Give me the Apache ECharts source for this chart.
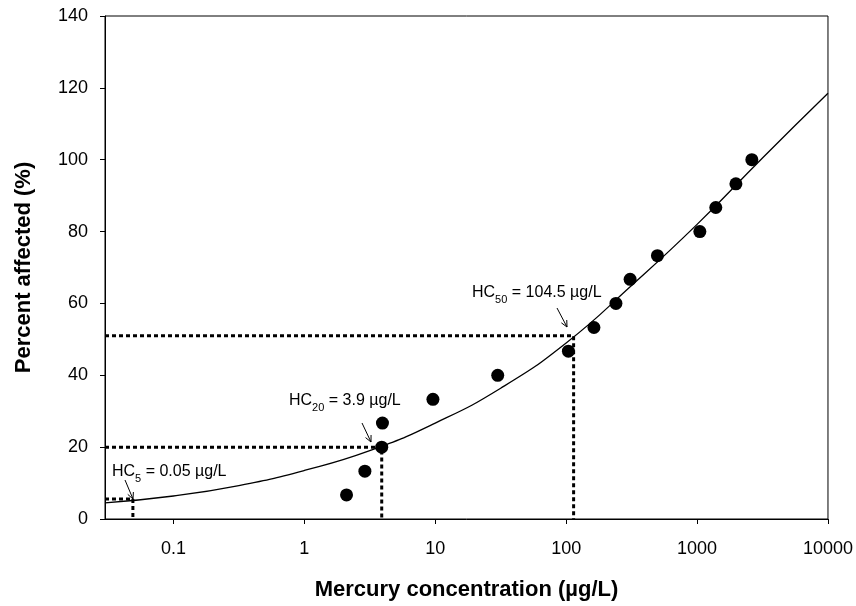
<!DOCTYPE html>
<html>
<head>
<meta charset="utf-8">
<script src="https://cdn.jsdelivr.net/npm/echarts@6/dist/echarts.min.js"></script>
<style>
  html, body { margin: 0; padding: 0; background: #fff; }
  #main { width: 856px; height: 606px; }
</style>
</head>
<body>
<div id="main"></div>
<script>
// observed points (concentration, % affected)
const obsX = [2.1, 2.9, 3.9, 3.95, 9.6, 30, 104, 163, 240, 308, 498, 1050, 1390, 1980, 2620];
const obsY = [6.7, 13.3, 20, 26.7, 33.3, 40, 46.7, 53.3, 60, 66.7, 73.3, 80, 86.7, 93.3, 100];

// fitted curve
const curveX = [0.03, 0.1, 0.316, 1, 3.16, 10, 31.6, 100, 316, 1000, 3160, 10000];
const curveY = [4.5, 6.4, 9.3, 13.5, 19, 26.7, 36.4, 49, 65, 82, 100.5, 118.5];

// HC5 / HC20 / HC50 guide lines
const hcX = [0.049, 3.9, 114];
const hcY = [5.6, 20, 51];

const xMin = 0.03, xMax = 10000;
const yTicks = [0, 20, 40, 60, 80, 100, 120, 140];

const font = '"Liberation Sans", Arial, sans-serif';

const chart = echarts.init(document.getElementById('main'));

const guideSeries = hcX.map((x, i) => ({
  type: 'line',
  data: [[xMin, hcY[i]], [x, hcY[i]], [x, 0]],
  showSymbol: false,
  silent: true,
  lineStyle: { color: '#000', width: 3, type: [4, 3] },
  z: 2
}));

function arrow(x1, y1, x2, y2) {
  const a = Math.atan2(y2 - y1, x2 - x1);
  const len = 7, sp = 0.45;
  return [
    { type: 'line', shape: { x1: x1, y1: y1, x2: x2, y2: y2 }, style: { stroke: '#000', lineWidth: 1 } },
    { type: 'polyline', shape: { points: [
        [x2 - len * Math.cos(a - sp), y2 - len * Math.sin(a - sp)],
        [x2, y2],
        [x2 - len * Math.cos(a + sp), y2 - len * Math.sin(a + sp)]
      ] }, style: { stroke: '#000', lineWidth: 1, fill: null } }
  ];
}

const rich = {
  a: { fontSize: 16, fontFamily: font, lineHeight: 18, verticalAlign: 'top', color: '#000' },
  s: { fontSize: 11, fontFamily: font, lineHeight: 14, verticalAlign: 'top', padding: [9, 0, 0, 0], color: '#000' }
};

function hcText(x, y, sub, rest) {
  return { type: 'text', x: x, y: y, style: { text: '{a|HC}{s|' + sub + '}{a| = ' + rest + '}', rich: rich } };
}

chart.setOption({
  animation: false,
  backgroundColor: '#fff',
  grid: { left: 105, right: 28, top: 16, bottom: 86, show: true, borderColor: '#000', borderWidth: 1 },
  xAxis: {
    type: 'log',
    logBase: 10,
    min: xMin,
    max: xMax,
    name: 'Mercury concentration (µg/L)',
    nameLocation: 'middle',
    nameGap: 60,
    nameTextStyle: { fontFamily: font, fontWeight: 'bold', fontSize: 22, color: '#000' },
    axisLine: { lineStyle: { color: '#000', width: 1 } },
    axisTick: { length: 5, lineStyle: { color: '#000' } },
    axisLabel: {
      fontFamily: font, fontSize: 18, color: '#000', margin: 21,
      showMinLabel: false,
      formatter: function (v) {
        const l = Math.log10(v);
        return Math.abs(l - Math.round(l)) < 1e-6 ? String(Number(v.toPrecision(6))) : '';
      }
    },
    splitLine: { show: false },
    minorTick: { show: false }
  },
  yAxis: {
    type: 'value',
    min: yTicks[0],
    max: yTicks[yTicks.length - 1],
    interval: 20,
    name: 'Percent affected (%)',
    nameLocation: 'middle',
    nameGap: 70,
    nameTextStyle: { fontFamily: font, fontWeight: 'bold', fontSize: 22, color: '#000' },
    axisLine: { show: true, lineStyle: { color: '#000', width: 1 } },
    axisTick: { show: true, length: 5, lineStyle: { color: '#000' } },
    axisLabel: { fontFamily: font, fontSize: 18, color: '#000', margin: 17 },
    splitLine: { show: false }
  },
  series: guideSeries.concat([
    {
      type: 'line',
      data: curveX.map((x, i) => [x, curveY[i]]),
      smooth: 0.5,
      showSymbol: false,
      silent: true,
      lineStyle: { color: '#000', width: 1.3 },
      z: 3
    },
    {
      type: 'scatter',
      data: obsX.map((x, i) => [x, obsY[i]]),
      symbol: 'circle',
      symbolSize: 13,
      itemStyle: { color: '#000', opacity: 1 },
      z: 4
    }
  ]),
  graphic: [
    hcText(112, 464, '5', '0.05 µg/L'),
    hcText(289, 393, '20', '3.9 µg/L'),
    hcText(472, 285, '50', '104.5 µg/L')
  ].concat(arrow(125, 480, 133, 499), arrow(362, 423, 371, 442), arrow(557, 308, 567, 327))
});
</script>
</body>
</html>
